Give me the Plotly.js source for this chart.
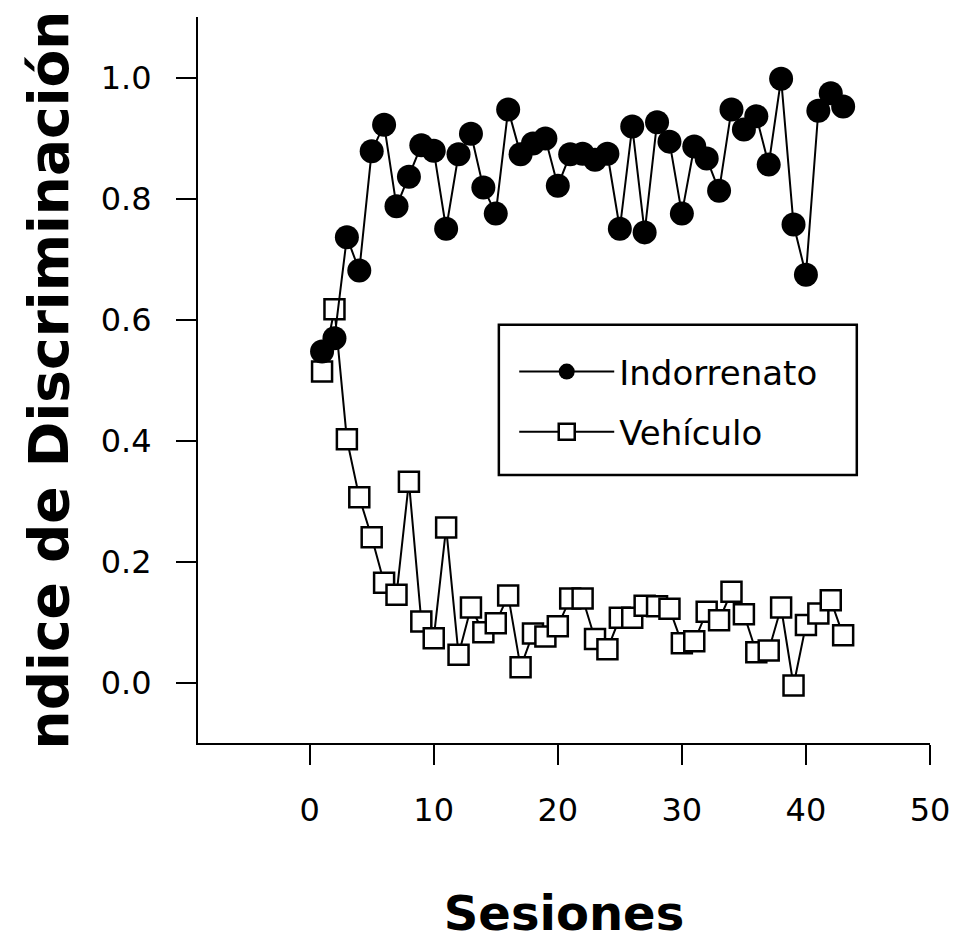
<!DOCTYPE html>
<html>
<head>
<meta charset="utf-8">
<script src="https://cdn.plot.ly/plotly-3.0.1.min.js"></script>
<style>
  html, body { margin: 0; padding: 0; background: #ffffff; }
  #chart { width: 958px; height: 949px; }
</style>
</head>
<body>
<div id="chart"></div>
<script>
// Sessions (x values)
const sesiones = [1,2,3,4,5,6,7,8,9,10,11,12,13,14,15,16,17,18,19,20,21,22,23,24,25,26,27,28,29,30,31,32,33,34,35,36,37,38,39,40,41,42,43];

// Indorrenato series
const indorrenato = [0.547,0.569,0.736,0.681,0.878,0.922,0.787,0.836,0.888,0.879,
                     0.750,0.873,0.907,0.818,0.775,0.947,0.873,0.891,0.899,0.821,
                     0.873,0.874,0.864,0.874,0.750,0.919,0.744,0.926,0.894,0.775,
                     0.886,0.866,0.813,0.947,0.914,0.936,0.856,0.998,0.757,0.674,
                     0.945,0.974,0.952];

// Vehículo series
const vehiculo = [0.514,0.617,0.402,0.306,0.240,0.165,0.145,0.332,0.101,0.073,
                  0.256,0.046,0.124,0.083,0.098,0.144,0.025,0.081,0.076,0.093,
                  0.139,0.139,0.072,0.055,0.107,0.107,0.127,0.126,0.122,0.065,
                  0.068,0.117,0.103,0.150,0.113,0.050,0.053,0.124,-0.005,0.095,
                  0.114,0.136,0.078];

// Tick labels
const xTicks = [0,10,20,30,40,50];
const yTicks = [0.0,0.2,0.4,0.6,0.8,1.0];
const yTickText = ["0.0","0.2","0.4","0.6","0.8","1.0"];

const traceVeh = {
  x: sesiones, y: vehiculo, name: 'Vehículo', type: 'scatter', mode: 'lines+markers',
  legendgroup: 'veh', legendrank: 2,
  line: { color: '#000000', width: 2 },
  marker: { symbol: 'square', size: 20, color: '#ffffff', line: { color: '#000000', width: 2.5 } }
};
const traceInd = {
  x: sesiones, y: indorrenato, name: 'Indorrenato', type: 'scatter', mode: 'lines+markers',
  legendgroup: 'ind', legendrank: 1,
  line: { color: '#000000', width: 2 },
  marker: { symbol: 'circle', size: 24, color: '#000000', line: { color: '#000000', width: 0 } }
};

const layout = {
  width: 958, height: 949,
  paper_bgcolor: '#ffffff', plot_bgcolor: '#ffffff',
  margin: { l: 198, r: 28, t: 17, b: 206, pad: 0 },
  showlegend: true,
  font: { family: 'DejaVu Sans', color: '#000000' },
  xaxis: {
    range: [-9, 50], tickvals: xTicks, ticktext: xTicks.map(String),
    showgrid: false, zeroline: false, showline: true, linecolor: '#000000', linewidth: 2,
    ticks: 'outside', ticklen: 20, tickwidth: 2, tickcolor: '#000000',
    ticklabelstandoff: 18,
    tickfont: { family: 'DejaVu Sans', size: 32, color: '#000000' },
    automargin: false,
    title: { text: 'Sesiones', standoff: 68, font: { family: 'DejaVu Sans', size: 48, weight: 'bold', color: '#000000' } }
  },
  yaxis: {
    range: [-0.1, 1.1], tickvals: yTicks, ticktext: yTickText,
    showgrid: false, zeroline: false, showline: true, linecolor: '#000000', linewidth: 2,
    ticks: 'outside', ticklen: 20, tickwidth: 2, tickcolor: '#000000',
    ticklabelstandoff: 18,
    tickfont: { family: 'DejaVu Sans', size: 32, color: '#000000' },
    automargin: false,
    title: { text: 'ndice de Discriminación', standoff: 14, font: { family: 'DejaVu Sans', size: 55, weight: 'bold', color: '#000000' } }
  },
  legend: {
    x: 0.432, y: 0.551, xanchor: 'left', yanchor: 'top',
    bgcolor: 'rgba(0,0,0,0)', borderwidth: 0,
    traceorder: 'grouped', tracegroupgap: 13, itemwidth: 95,
    font: { family: 'DejaVu Sans', size: 34, color: '#000000' }
  },
  shapes: [{
    type: 'rect', xref: 'paper', yref: 'paper',
    x0: 0.411, x1: 0.900, y0: 0.369, y1: 0.576,
    line: { color: '#000000', width: 2.5 }, fillcolor: 'rgba(0,0,0,0)', layer: 'above'
  }]
};

Plotly.newPlot('chart', [traceVeh, traceInd], layout, { displayModeBar: false, staticPlot: true });
</script>
</body>
</html>
